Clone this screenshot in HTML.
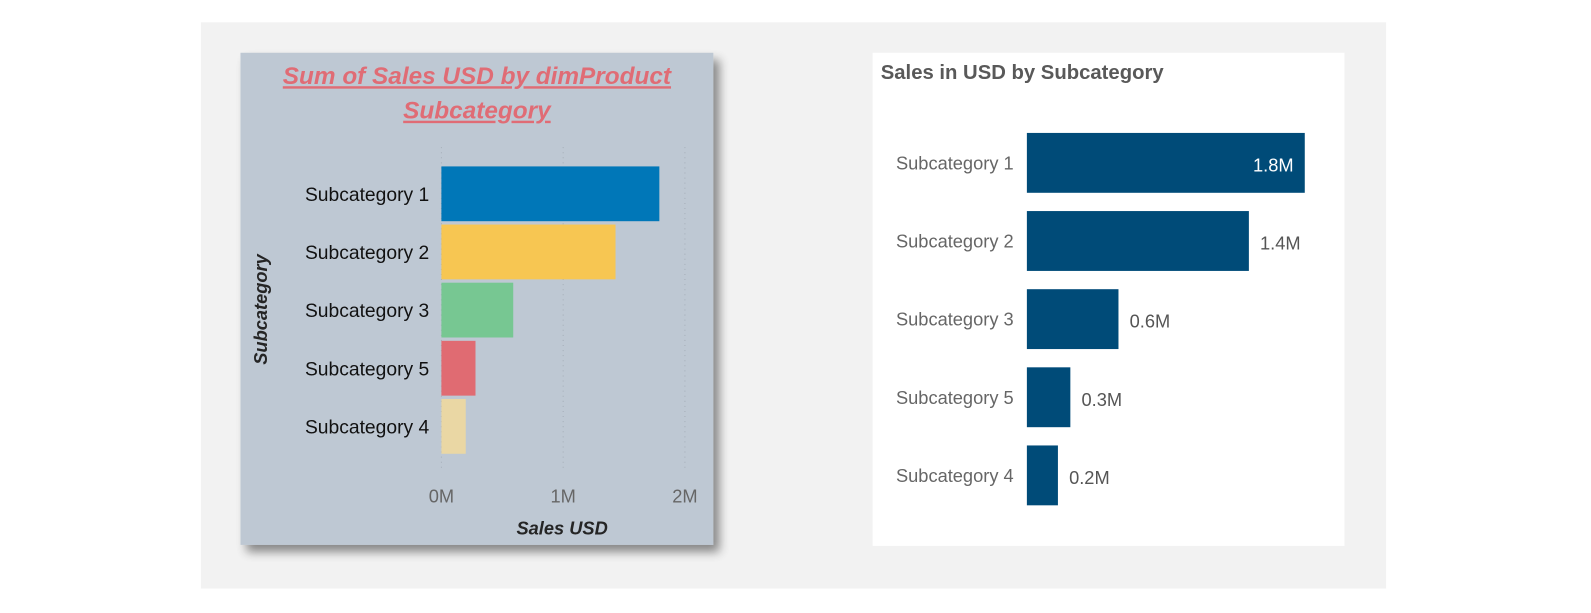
<!DOCTYPE html>
<html><head><meta charset="utf-8"><style>
html,body{margin:0;padding:0;background:#fff;width:1591px;height:613px;overflow:hidden}
svg{display:block}
text{font-family:"Liberation Sans",sans-serif}
</style></head><body>
<svg width="1591" height="613">
<defs><filter id="sh" x="-10%" y="-10%" width="130%" height="130%"><feGaussianBlur in="SourceAlpha" stdDeviation="5"/><feOffset dx="6" dy="7"/><feComponentTransfer><feFuncA type="linear" slope="0.45"/></feComponentTransfer><feMerge><feMergeNode/><feMergeNode in="SourceGraphic"/></feMerge></filter></defs>
<g transform="scale(1.0147)">
<rect x="198" y="22" width="1168" height="558" fill="#f2f2f2"/>
<g id="left">
<rect x="237" y="52" width="466" height="485" fill="#bec8d3" filter="url(#sh)"/>
<text x="470" y="83" text-anchor="middle" font-size="24" font-style="italic" font-weight="bold" fill="#e06c75" text-decoration="underline">Sum of Sales USD by dimProduct</text>
<text x="470" y="117" text-anchor="middle" font-size="24" font-style="italic" font-weight="bold" fill="#e06c75" text-decoration="underline">Subcategory</text>
<text transform="translate(263,305) rotate(-90)" text-anchor="middle" font-size="18" font-style="italic" font-weight="bold" fill="#252525">Subcategory</text>
<text x="554" y="527" text-anchor="middle" font-size="18" font-style="italic" font-weight="bold" fill="#252525">Sales USD</text>
</g>
<g id="right">
<rect x="860" y="52" width="465" height="486" fill="#ffffff"/>
<text x="868" y="78" font-size="20" font-weight="bold" fill="#595959">Sales in USD by Subcategory</text>
</g>
</g>
</svg>
<script>
const categories=["Subcategory 1","Subcategory 2","Subcategory 3","Subcategory 5","Subcategory 4"];
const salesM=[1.79,1.43,0.59,0.28,0.2];
const barColors=["#0077b8","#f7c652","#77c792","#e06b72","#ead7a4"];
const xTicks=[0,1,2];
const tickLabels=["0M","1M","2M"];
const valueLabels=["1.8M","1.4M","0.6M","0.3M","0.2M"];
const NS="http://www.w3.org/2000/svg";
function mk(tag,attrs,parent,txt){const e=document.createElementNS(NS,tag);for(const k in attrs)e.setAttribute(k,attrs[k]);if(txt!==undefined)e.textContent=txt;parent.appendChild(e);return e;}
const L=document.getElementById('left');
const lx=v=>435+v*120;
const ly=i=>164+i*57.3;
xTicks.forEach((t,i)=>{
  const g=mk('line',{x1:lx(t),x2:lx(t),y1:145,y2:462,stroke:'#a5aeb8','stroke-width':1,'stroke-dasharray':'1,4'},L);
  
  
  const tl=mk('text',{x:lx(t),y:495,'text-anchor':'middle','font-size':18,fill:'#666'},L,tickLabels[i]);
  
  
});
categories.forEach((c,i)=>{
  const r=mk('rect',{x:lx(0),y:ly(i),width:lx(salesM[i])-lx(0),height:54,fill:barColors[i]},L);
  
  
  const t=mk('text',{x:423,y:ly(i)+34,'text-anchor':'end','font-size':19,fill:'#111'},L,c);
  
  
});
const R=document.getElementById('right');
const rx=v=>1012+v*153;
const ry=i=>131+i*77;
const maxV=Math.max(...salesM);
categories.forEach((c,i)=>{
  const w=rx(salesM[i])-rx(0);
  const r=mk('rect',{x:rx(0),y:ry(i),width:w,height:59,fill:'#004b78'},R);
  
  
  const t=mk('text',{x:999,y:ry(i)+36,'text-anchor':'end','font-size':18,fill:'#666'},R,c);
  
  
  const inside=salesM[i]>=maxV*0.9;
  const v=mk('text',{x:inside?rx(salesM[i])-11:rx(salesM[i])+11,y:ry(i)+38,'text-anchor':inside?'end':'start','font-size':18,fill:inside?'#fff':'#555'},R,valueLabels[i]);
  
  
});
</script>
</body></html>
